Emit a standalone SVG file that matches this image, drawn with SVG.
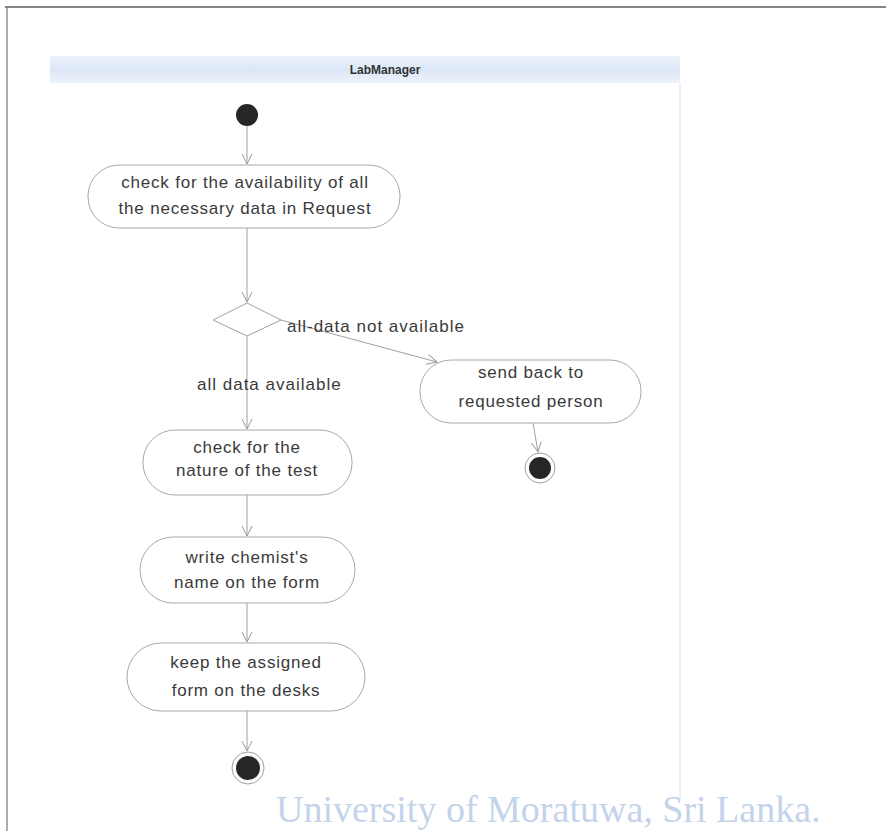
<svg xmlns="http://www.w3.org/2000/svg" width="886" height="831" viewBox="0 0 886 831">
<defs>
<linearGradient id="band" x1="0" y1="0" x2="0" y2="1">
<stop offset="0" stop-color="#eef3fb"/>
<stop offset="0.5" stop-color="#dbe6f6"/>
<stop offset="1" stop-color="#eef3fb"/>
</linearGradient>
<marker id="arr" viewBox="0 0 12 12" refX="11" refY="6" markerWidth="12" markerHeight="12" markerUnits="userSpaceOnUse" orient="auto">
<path d="M1,1 L11,6 L1,11" fill="none" stroke="#9a9a9a" stroke-width="1"/>
</marker>
</defs>
<style>
.act{fill:#ffffff;stroke:#a8a8a8;stroke-width:1}
.t{font-family:"Liberation Sans",Arial,sans-serif;font-size:17px;letter-spacing:0.8px;fill:#3a3a3a;text-anchor:middle}
.lbl{font-family:"Liberation Sans",Arial,sans-serif;font-size:17px;letter-spacing:1px;fill:#3a3a3a}
.edge{fill:none;stroke:#a0a0a0;stroke-width:1;marker-end:url(#arr)}
.start{fill:#262626}
.fo{fill:#ffffff;stroke:#a0a0a0;stroke-width:1}
.fi{fill:#262626}
</style>
<rect width="886" height="831" fill="#ffffff"/>
<line x1="5" y1="7" x2="886" y2="7" stroke="#5a5a5a" stroke-width="1.6"/>
<line x1="7" y1="7" x2="7" y2="831" stroke="#8a8a8a" stroke-width="1.4"/>
<g id="lane">
<rect x="50" y="56" width="630" height="27" fill="url(#band)"/>
<line x1="680" y1="83" x2="680" y2="800" stroke="#e2e6ee" stroke-width="1.2"/>
<text x="385" y="74" font-family="Liberation Sans,Arial,sans-serif" font-size="12" font-weight="bold" fill="#333" text-anchor="middle">LabManager</text>
</g>
<g id="connectors">
<line class="edge" x1="247" y1="126" x2="247" y2="164"/>
<line class="edge" x1="247" y1="228" x2="247" y2="302"/>
<line class="edge" x1="281" y1="320" x2="437" y2="362"/>
<line class="edge" x1="247" y1="336" x2="247" y2="429"/>
<line class="edge" x1="247" y1="495" x2="247" y2="536"/>
<line class="edge" x1="247" y1="603" x2="247" y2="642"/>
<line class="edge" x1="247" y1="711" x2="247" y2="751"/>
<line class="edge" x1="533" y1="423" x2="538" y2="452"/>
<text class="lbl" x="287" y="332">all-data not available</text>
<text class="lbl" x="197" y="390">all data available</text>
</g>
<g id="start"><circle class="start" cx="247" cy="115" r="11"/></g>
<g id="a1">
<rect class="act" x="88" y="165" width="312" height="63" rx="31" ry="31"/>
<text class="t" x="245" y="188">check for the availability of all</text>
<text class="t" x="245" y="214">the necessary data in Request</text>
</g>
<g id="decision">
<polygon points="247,303 281,320 247,336 213,320" fill="#fff" stroke="#a0a0a0" stroke-width="1"/>
</g>
<g id="a_send">
<rect class="act" x="420" y="360" width="221" height="63" rx="31" ry="31"/>
<text class="t" x="531" y="378">send back to</text>
<text class="t" x="531" y="407">requested person</text>
</g>
<g id="end1">
<circle class="fo" cx="540" cy="468" r="15"/>
<circle class="fi" cx="540" cy="468" r="11"/>
</g>
<g id="a2">
<rect class="act" x="143" y="430" width="209" height="65" rx="32" ry="32"/>
<text class="t" x="247" y="453">check for the</text>
<text class="t" x="247" y="476">nature of the test</text>
</g>
<g id="a3">
<rect class="act" x="140" y="537" width="215" height="66" rx="33" ry="33"/>
<text class="t" x="247" y="563">write chemist's</text>
<text class="t" x="247" y="588">name on the form</text>
</g>
<g id="a4">
<rect class="act" x="127" y="643" width="238" height="68" rx="34" ry="34"/>
<text class="t" x="246" y="668">keep the assigned</text>
<text class="t" x="246" y="696">form on the desks</text>
</g>
<g id="end2">
<circle class="fo" cx="248" cy="768" r="16"/>
<circle class="fi" cx="248" cy="768" r="12"/>
</g>
<text x="276" y="822" font-family="Liberation Serif,Times New Roman,serif" font-size="38" fill="#c3d3ea">University of Moratuwa, Sri Lanka.</text>
</svg>
